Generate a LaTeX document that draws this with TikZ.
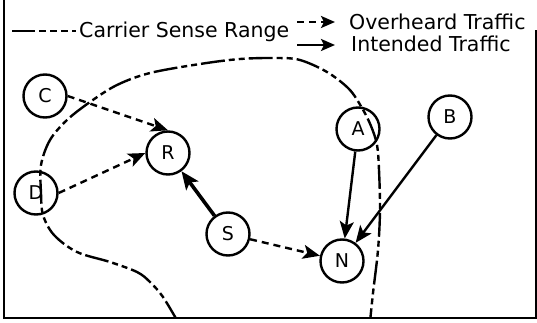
\documentclass[tikz,border=0pt]{standalone}
\usepackage{fontspec}
\setmainfont{DejaVu Sans}
\usetikzlibrary{arrows.meta}
\tikzset{
  station/.style={circle, draw, line width=2.4pt, fill=white, minimum size=43pt, inner sep=0pt, font=\fontsize{19}{21}\selectfont},
  overheard/.style={line width=2.4pt, dash pattern=on 7pt off 5pt, -{Stealth[length=17pt,width=14pt,inset=4pt]}},
  intended/.style={line width=2.4pt, -{Stealth[length=17pt,width=14pt,inset=4pt]}},
  intendedthick/.style={line width=3.6pt, -{Stealth[length=18pt,width=15pt,inset=4pt]}},
  legendarrow/.style={line width=2.4pt, -{Stealth[length=14pt,width=12pt,inset=3pt]}},
  rangeline/.style={line width=2.4pt, dash pattern=on 24pt off 4pt on 6pt off 4pt on 6pt off 4pt},
  legendtext/.style={inner sep=0pt, anchor=base west, font=\fontsize{20.5}{22}\selectfont},
  frameline/.style={line width=2.6pt}
}
\begin{document}
\begin{tikzpicture}[x=1pt,y=-1pt]
\useasboundingbox (0,0) rectangle (537,323);
% frame
\draw[frameline] (4,0) -- (4,318) -- (536,318) -- (536,30);
% legend
\coordinate (l1a) at (12,31);
\coordinate (l1b) at (76,31);
\draw[line width=2.4pt, dash pattern=on 23pt off 4pt on 7pt off 4pt on 7pt off 4pt on 7pt off 4pt] (l1a) -- (l1b);
\node[legendtext] (lcs) at (79,37.5) {Carrier Sense Range};
\coordinate (l2a) at (297,22);
\coordinate (l2b) at (335,22);
\draw[legendarrow, dash pattern=on 7pt off 5pt] (l2a) -- (l2b);
\node[legendtext] (lov) at (349,29.5) {Overheard Traffic};
\coordinate (l3a) at (297,45);
\coordinate (l3b) at (335,45);
\draw[legendarrow] (l3a) -- (l3b);
\node[legendtext] (lin) at (351,52) {Intended Traffic};
% stations
\node[station] (C) at (45,96) {C};
\node[station] (R) at (168,153) {R};
\node[station] (D) at (36,193) {D\hspace{16pt}};
\node[station] (S) at (228,234) {S};
\node[station] (A) at (358,129) {A};
\node[station] (B) at (450,117) {B};
\node[station] (N) at (342,261) {N};
% carrier sense range
\begin{scope}
\clip (4,0) rectangle (536,318);
\draw[rangeline] plot[smooth, tension=0.55] coordinates {
(178,322) (163,297) (150,282) (137,272) (110,262) (77,252) (54,235) (43,215) (41,193) (41,165) (50,140) (67,120) (90,102) (117,85) (150,73) (200,64) (240,59) (277,58) (300,60) (327,72) (349,89) (362,108) (371,126) (377,145) (379,170) (380,210) (378,250) (373,293) (370,322)};
\end{scope}
% traffic
\draw[overheard] (C.east) -- (R.north);
\draw[overheard] (D.east) -- (R.west);
\draw[intendedthick] (S) -- (R);
\draw[overheard] (S) -- (N);
\draw[intended] (A) -- (N);
\draw[intended] (B) -- (N);
\end{tikzpicture}
\end{document}
